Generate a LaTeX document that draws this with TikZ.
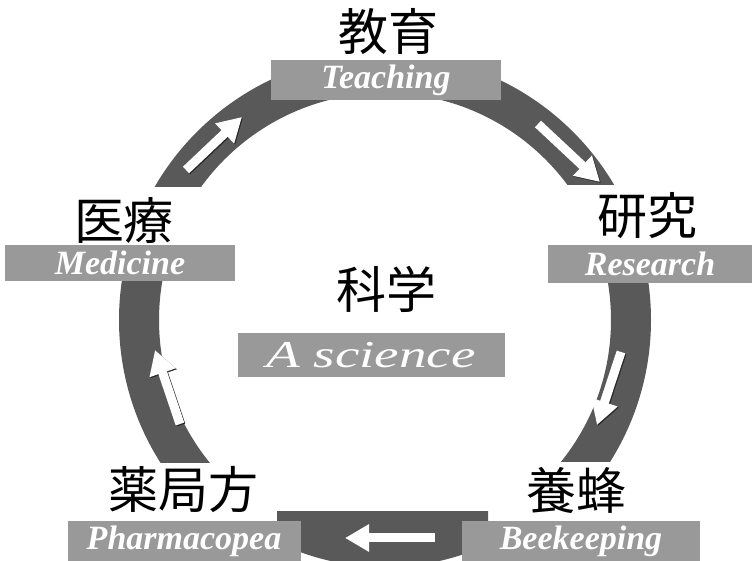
\documentclass[tikz,border=0pt]{standalone}
\usepackage{fontspec}
\setmainfont{Liberation Serif}
\newfontfamily\jpfont{Noto Sans CJK JP}
\usetikzlibrary{arrows.meta}

\tikzset{
  bar/.style={fill=black!40, text=white, inner sep=0pt, font=\fontsize{34}{36}\selectfont\bfseries\itshape},
  word/.style={inner sep=0pt, font=\jpfont\fontsize{50}{54}\selectfont},
  band/.style={fill=black!65, even odd rule},
  flow/.style={line width=9pt, white, -{Triangle[width=26pt,length=24pt]}},
  flowedge/.style={line width=9pt, black!85, -{Triangle[width=26pt,length=24pt]}},
}

\begin{document}
\begin{tikzpicture}[x=1pt, y=-1pt]
    \useasboundingbox (0,0) rectangle (756,561);
    \coordinate (c) at (385,320); % centre of the ring

    % pieces of the ring
    \begin{scope}
        \clip (100,70) rectangle (385,187);
        \fill[band] (c) circle[radius=266] (c) circle[radius=227];
    \end{scope}
    \begin{scope}
        \clip (385,70) rectangle (720,185);
        \fill[band] (c) circle[radius=266] (c) circle[radius=227];
    \end{scope}
    \begin{scope}
        \clip (450,280) rectangle (720,462);
        \fill[band] (c) circle[radius=266] (c) circle[radius=226];
    \end{scope}
    \begin{scope}
        \clip (50,280) rectangle (385,463);
        \fill[band] (c) circle[radius=266] (c) circle[radius=226];
    \end{scope}
    \begin{scope}
        \clip (277,512) rectangle (488,561);
        \fill[band] (c) circle[radius=247];
    \end{scope}

    % bars
    \node[bar, minimum width=230pt, minimum height=40pt] (teach) at (386,80) {Teaching};
    \node[bar, minimum width=204pt, minimum height=38pt] (research) at (650,264) {Research};
    \node[bar, minimum width=238pt, minimum height=40pt] (bee) at (581,541) {Beekeeping};
    \node[bar, minimum width=233pt, minimum height=40pt] (pharma) at (184,541) {Pharmacopea};
    \node[bar, minimum width=230pt, minimum height=36pt] (med) at (120,263) {Medicine};
    \node[bar, minimum width=267pt, minimum height=44pt, font=\fontsize{38}{40}\selectfont\itshape] (sci) at (371,355)
        {\scalebox{1.45}[1]{A science}};

    % titles
    \node[word] (teachjp) at (388,32) {教育};
    \node[word] (researchjp) at (647,216) {研究};
    \node[word] (beejp) at (576,490) {養蜂};
    \node[word] (pharmajp) at (183,490) {薬局方};
    \node[word] (medjp) at (124,221) {医療};
    \node[word] (scijp) at (386,289) {科学};

    % white arrows on the ring
    \coordinate (a1s) at (186,170); \coordinate (a1e) at (242,117);
    \coordinate (a2s) at (538,124); \coordinate (a2e) at (600,182);
    \coordinate (a3s) at (621,352); \coordinate (a3e) at (597,425);
    \coordinate (a4s) at (435,538); \coordinate (a4e) at (345,538);
    \coordinate (a5s) at (180,424); \coordinate (a5e) at (155,350);

    \draw[flowedge] ([shift={(1,1)}]a1s) -- ([shift={(1,1)}]a1e);
    \draw[flowedge] ([shift={(1,1)}]a2s) -- ([shift={(1,1)}]a2e);
    \draw[flowedge] ([shift={(1,1)}]a3s) -- ([shift={(1,1)}]a3e);
    \draw[flowedge] ([shift={(1,1)}]a5s) -- ([shift={(1,1)}]a5e);
    \draw[flow] (a1s) -- (a1e);
    \draw[flow] (a2s) -- (a2e);
    \draw[flow] (a3s) -- (a3e);
    \draw[flow] (a4s) -- (a4e);
    \draw[flow] (a5s) -- (a5e);
\end{tikzpicture}
\end{document}
